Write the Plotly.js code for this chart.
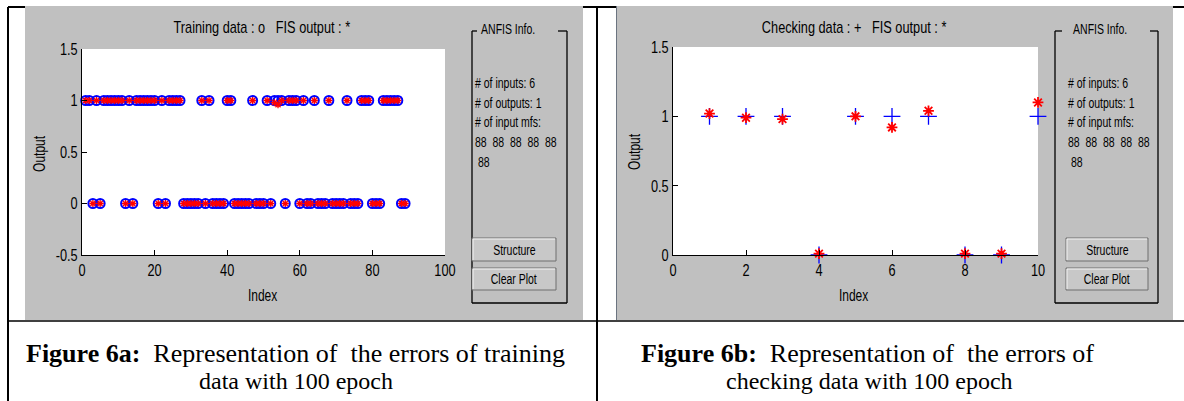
<!DOCTYPE html>
<html>
<head>
<meta charset="utf-8">
<script src="https://cdn.plot.ly/plotly-3.0.1.min.js"></script>
<style>html,body{margin:0;padding:0;background:#fff;}#chart{width:1184px;height:401px;}</style>
</head>
<body>
<div id="chart"></div>
<script>
// ---------- DATA ----------
const trainIndex = [];
for (let i = 1; i <= 89; i++) trainIndex.push(i);
const trainOnes = [1,2,4,6,7,8,9,10,11,13,15,16,17,18,19,20,22,24,25,26,27,33,35,40,41,47,51,53,54,55,57,58,59,61,64,68,73,77,78,79,83,84,85,86,87];
const trainTarget = trainIndex.map(i => trainOnes.includes(i) ? 1 : 0);
const trainFisOffsets = {53: -0.02, 54: -0.04};
const trainFis = trainIndex.map((i, k) => trainTarget[k] + (trainFisOffsets[i] || 0));

const checkIndex  = [1, 2, 3, 4, 5, 6, 7, 8, 9, 10];
const checkTarget = [1, 1, 1, 0, 1, 1, 1, 0, 0, 1];
const checkFis    = [1.02, 0.99, 0.98, 0.01, 1.00, 0.92, 1.04, 0.01, 0.01, 1.10];

const trainXTicks = [0, 20, 40, 60, 80, 100];
const trainYTicks = [-0.5, 0, 0.5, 1, 1.5];
const trainYTickText = ["-0.5", "0", "0.5", "1", "1.5"];
const checkXTicks = [0, 2, 4, 6, 8, 10];
const checkYTicks = [0, 0.5, 1, 1.5];
const checkYTickText = ["0", "0.5", "1", "1.5"];

const trainTitle = "Training data : o &nbsp; FIS output : *";
const checkTitle = "Checking data : + &nbsp; FIS output : *";
const anfisInfo = ["# of inputs: 6", "# of outputs: 1", "# of input mfs:", "88 &nbsp;88 &nbsp;88 &nbsp;88 &nbsp;88", "&nbsp;88"];
const captionA = ["<b>Figure 6a:</b> &nbsp;Representation of &nbsp;the errors of training", "data with 100 epoch"];
const captionB = ["<b>Figure 6b:</b> &nbsp;Representation of &nbsp;the errors of", "checking data with 100 epoch"];

// ---------- LAYOUT HELPERS ----------
const W = 1184, H = 401;
const X = p => p / W;
const Y = p => 1 - p / H;
const SANS = "Liberation Sans, Arial, sans-serif";
const SERIF = "Liberation Serif, Times New Roman, serif";
const GRAY = "#c0c0c0";

const shapes = [];
function rect(x0, y0, x1, y1, fill, lc, lw) {
  shapes.push({type: "rect", xref: "paper", yref: "paper", x0: X(x0), x1: X(x1), y0: Y(y1), y1: Y(y0),
    fillcolor: fill, line: {color: lc || "rgba(0,0,0,0)", width: lw || 0}, layer: "below"});
}
function line(x0, y0, x1, y1, color, w) {
  shapes.push({type: "line", xref: "paper", yref: "paper", x0: X(x0), x1: X(x1), y0: Y(y0), y1: Y(y1),
    line: {color: color, width: w}, layer: "below"});
}

// table lines
line(8, 7, 1184, 7, "#000", 2);
line(8, 7, 8, 401, "#000", 2);
line(597, 7, 597, 401, "#000", 2);
line(8, 321, 1184, 321, "#000", 1.5);
// gray figure panels
rect(25, 6, 583, 320, GRAY);
rect(616, 6, 1173, 320, GRAY);
line(616.5, 6, 616.5, 320, "#6b7480", 1);
// white plot areas
rect(82, 49, 445, 255, "#fff");
rect(673, 47, 1038, 255, "#fff");

// ANFIS boxes
function infoBox(x0, x1, gapL, gapR) {
  const top = 31, bot = 303;
  line(x0, top, x0, bot, "#000", 1.3);
  line(x1, top, x1, bot, "#000", 1.3);
  line(x0, bot, x1, bot, "#000", 1.3);
  line(x0, top, gapL, top, "#000", 1.3);
  line(gapR, top, x1, top, "#000", 1.3);
}
infoBox(472, 567, 477, 558);
infoBox(1055, 1158, 1062, 1150);

function button(x0, y0, x1, y1) {
  rect(x0, y0, x1, y1, "#c8c8c8", "#6e6e6e", 1);
  line(x0 + 1, y0 + 1, x1 - 1, y0 + 1, "#f4f4f4", 1);
  line(x0 + 1, y0 + 1, x0 + 1, y1 - 1, "#f4f4f4", 1);
}
button(472, 238, 556, 261);
button(472, 268, 556, 290);
button(1066, 238, 1148, 261);
button(1066, 268, 1148, 290);

// ---------- ANNOTATIONS ----------
const annotations = [];
function txt(text, x, y, opts) {
  const o = Object.assign({size: 15, family: SANS, xanchor: "center", angle: 0, color: "#000"}, opts || {});
  annotations.push({text: text, xref: "paper", yref: "paper", x: X(x), y: Y(y), xanchor: o.xanchor, yanchor: "middle",
    showarrow: false, textangle: o.angle, font: {family: o.family, size: o.size, color: o.color}});
}
txt(trainTitle, 262, 28, {size: 17});
txt("Index", 262, 295, {size: 16});
txt("Output", 39, 153, {size: 16, angle: -90});
txt(checkTitle, 854, 27, {size: 17});
txt("Index", 853, 295, {size: 16});
txt("Output", 635, 152, {size: 16, angle: -90});

txt("ANFIS Info.", 508, 29, {size: 14});
txt("ANFIS Info.", 1100, 29, {size: 14});
const infoY = [83, 103, 122, 142, 162];
anfisInfo.forEach((t, k) => {
  txt(t, 473, infoY[k], {size: 14, xanchor: "left"});
  txt(t, 1066, infoY[k], {size: 14, xanchor: "left"});
});
txt("Structure", 514, 249.5, {size: 14});
txt("Clear Plot", 514, 279, {size: 14});
txt("Structure", 1107, 249.5, {size: 14});
txt("Clear Plot", 1107, 279, {size: 14});

txt(captionA[0], 295, 353, {size: 26, family: SERIF});
txt(captionA[1], 296, 381, {size: 24, family: SERIF});
txt(captionB[0], 867, 353, {size: 26, family: SERIF});
txt(captionB[1], 869, 381, {size: 24, family: SERIF});

// ---------- TRACES ----------
const traces = [
  {type: "scatter", mode: "markers", x: trainIndex, y: trainTarget, xaxis: "x", yaxis: "y", cliponaxis: false,
    marker: {symbol: "circle-open", size: 9, color: "#0000ff", line: {color: "#0000ff", width: 2}}, hoverinfo: "skip"},
  {type: "scatter", mode: "markers", x: trainIndex, y: trainFis, xaxis: "x", yaxis: "y", cliponaxis: false,
    marker: {symbol: "asterisk-open", size: 6, color: "#ff0000", line: {color: "#ff0000", width: 1.3}}, hoverinfo: "skip"},
  {type: "scatter", mode: "markers", x: checkIndex, y: checkTarget, xaxis: "x2", yaxis: "y2", cliponaxis: false,
    marker: {symbol: "cross-thin-open", size: 12, color: "#0000ff", line: {color: "#0000ff", width: 1.3}}, hoverinfo: "skip"},
  {type: "scatter", mode: "markers", x: checkIndex, y: checkFis, xaxis: "x2", yaxis: "y2", cliponaxis: false,
    marker: {symbol: "asterisk-open", size: 9, color: "#ff0000", line: {color: "#ff0000", width: 1.8}}, hoverinfo: "skip"}
];

function axis(extra) {
  return Object.assign({showline: true, linecolor: "#000", linewidth: 1, ticks: "inside", ticklen: 5, tickcolor: "#000",
    tickwidth: 1, showgrid: false, zeroline: false, fixedrange: true,
    tickfont: {family: SANS, size: 17, color: "#000"}}, extra);
}

const layout = {
  width: W, height: H, margin: {l: 0, r: 0, t: 0, b: 0},
  paper_bgcolor: "#fff", plot_bgcolor: "rgba(0,0,0,0)", showlegend: false,
  xaxis: axis({domain: [X(82), X(445)], range: [0, 100], tickvals: trainXTicks, ticktext: trainXTicks.map(String), anchor: "y"}),
  yaxis: axis({domain: [Y(255), Y(49)], range: [-0.5, 1.5], tickvals: trainYTicks, ticktext: trainYTickText, anchor: "x"}),
  xaxis2: axis({domain: [X(673), X(1038)], range: [0, 10], tickvals: checkXTicks, ticktext: checkXTicks.map(String), anchor: "y2"}),
  yaxis2: axis({domain: [Y(255), Y(47)], range: [0, 1.5], tickvals: checkYTicks, ticktext: checkYTickText, anchor: "x2"}),
  shapes: shapes, annotations: annotations
};

// MATLAB GUI text is condensed: squeeze sans-serif labels horizontally about their anchor.
function condense(gd, s) {
  const squeeze = (t, mode) => {
    const b = t.getBBox();
    const ax = mode === "start" ? b.x : mode === "end" ? b.x + b.width : b.x + b.width / 2;
    const prev = t.getAttribute("transform") || "";
    t.setAttribute("transform", prev + " translate(" + ax + ",0) scale(" + s + ",1) translate(" + (-ax) + ",0)");
  };
  gd.querySelectorAll("g.annotation").forEach(g => {
    const idx = +g.getAttribute("data-index");
    const a = annotations[idx];
    if (!a || a.font.family !== SANS) return;
    const t = g.querySelector("text.annotation-text");
    if (t) squeeze(t, a.xanchor === "left" ? "start" : "middle");
  });
  gd.querySelectorAll("g.xaxislayer-above text").forEach(t => squeeze(t, "middle"));
  gd.querySelectorAll("g.yaxislayer-above text").forEach(t => squeeze(t, "end"));
}

const gd = document.getElementById("chart");
Plotly.newPlot(gd, traces, layout, {displayModeBar: false, staticPlot: true}).then(() => {
  try { condense(gd, 0.75); } catch (e) { console.log(e); }
});
</script>
</body>
</html>
